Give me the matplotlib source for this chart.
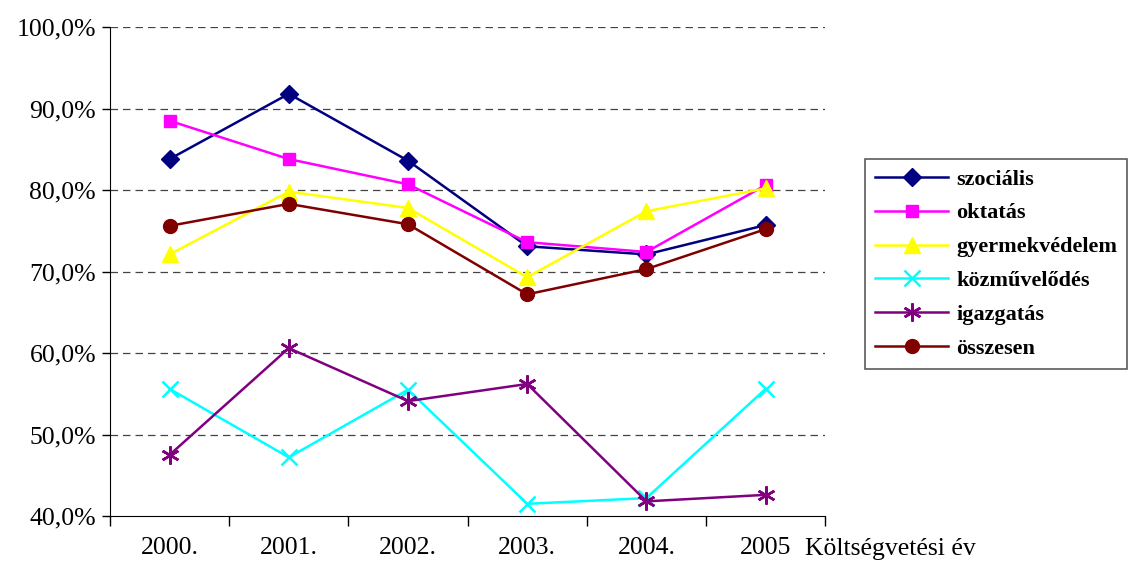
import matplotlib.pyplot as plt
from matplotlib.ticker import FuncFormatter, FixedLocator

years = ['2000.', '2001.', '2002.', '2003.', '2004.', '2005']
szocialis = [83.8, 91.8, 83.6, 73.1, 72.1, 75.7]
oktatas = [88.5, 83.8, 80.7, 73.6, 72.4, 80.6]
gyermekvedelem = [72.1, 79.8, 77.8, 69.3, 77.4, 80.2]
kozmuvelodes = [55.6, 47.2, 55.5, 41.5, 42.2, 55.6]
igazgatas = [47.5, 60.6, 54.1, 56.2, 41.8, 42.6]
osszesen = [75.6, 78.3, 75.8, 67.2, 70.3, 75.2]

series = [
    ('szociális', szocialis, '#000080', 'D', 9),
    ('oktatás', oktatas, '#FF00FF', 's', 9),
    ('gyermekvédelem', gyermekvedelem, '#FFFF00', '^', 11),
    ('közművelődés', kozmuvelodes, '#00FFFF', 'x', 11),
    ('igazgatás', igazgatas, '#800080', (6, 2, 0), 13),
    ('összesen', osszesen, '#800000', 'o', 10),
]

plt.rcParams['font.family'] = ['Liberation Serif', 'DejaVu Serif']

fig = plt.figure(figsize=(11.3, 5.69), dpi=100)
ax = fig.add_axes([0.0973, 0.0931, 0.633, 0.8594])

x = list(range(len(years)))
for name, vals, col, mk, ms in series:
    ax.plot(x, vals, color=col, lw=1.8, marker=mk, markersize=ms,
            markeredgewidth=1.8 if mk in ('x', (6, 2, 0)) else 1,
            markeredgecolor=col, markerfacecolor=col, label=name)

ax.set_ylim(40, 100)
ax.set_xlim(-0.5, len(years) - 0.5)
ax.set_yticks(range(40, 101, 10))
ax.yaxis.set_major_formatter(FuncFormatter(lambda v, p: ('%.1f%%' % v).replace('.', ',')))
ax.xaxis.set_major_locator(FixedLocator([i - 0.5 for i in range(len(years) + 1)]))
ax.xaxis.set_major_formatter(FuncFormatter(lambda v, p: ''))
ax.set_xticks(x, minor=True)
ax.set_xticklabels(years, minor=True)
ax.tick_params(axis='x', which='major', direction='out', length=7, width=1)
ax.tick_params(axis='x', which='minor', length=0, pad=15, labelsize=18.5)
ax.tick_params(axis='y', direction='out', length=6, width=1, labelsize=18.5, pad=4)

for v in range(50, 101, 10):
    ax.axhline(v, color='#444444', lw=0.9, ls=(0, (6, 4)), zorder=0)

ax.spines['top'].set_visible(False)
ax.spines['right'].set_visible(False)

fig.text(805 / 1130, 1 - 549 / 569, 'Költségvetési év', fontsize=18.5, va='center', ha='left')

leg = fig.legend(loc='upper left',
                 bbox_to_anchor=(865 / 1130, 1 - 367 / 569, 262 / 1130, 208 / 569),
                 mode='expand', borderaxespad=0, frameon=True, fancybox=False,
                 edgecolor='#333333', borderpad=0.45, labelspacing=0.6,
                 handlelength=3.3, handletextpad=0.35,
                 prop={'family': 'Liberation Serif', 'weight': 'bold', 'size': 16})
leg.get_frame().set_linewidth(1.2)

fig.savefig('out.png', dpi=100)
